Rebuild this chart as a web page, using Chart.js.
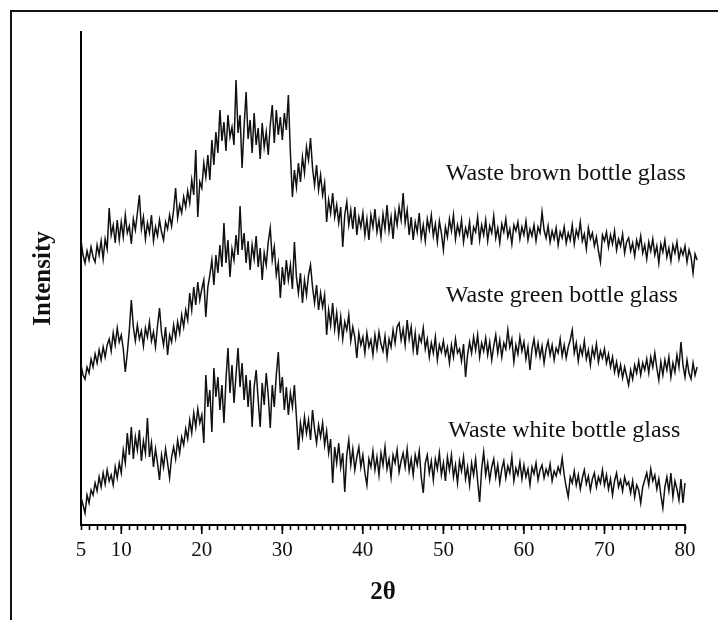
<!DOCTYPE html>
<html>
<head>
<meta charset="utf-8">
<script src="https://cdn.jsdelivr.net/npm/chart.js@4"></script>
<style>
  body { margin: 0; background: #fff; }
  #wrap { width: 718px; height: 620px; }
</style>
</head>
<body>
<div id="wrap"><canvas id="xrdChart"></canvas></div>
<script>
// scan grid: 2theta from 5 deg, 0.25 deg per step
const thetaStart = 5;
const thetaStep = 0.25;

const xTickLabels = [5, 10, 20, 30, 40, 50, 60, 70, 80];
const majorTicks = [10, 20, 30, 40, 50, 60, 70, 80];

// intensities (arbitrary units)
const brownGlass = [
  285, 270, 262, 274, 265, 278, 268, 263, 280, 270, 284, 266, 286, 276, 317, 290, 300, 282, 305, 285,
  303, 288, 310, 292, 299, 281, 306, 295, 312, 330, 296, 308, 286, 302, 292, 310, 284, 298, 289, 305,
  293, 285, 303, 296, 310, 299, 315, 337, 307, 320, 312, 328, 318, 334, 322, 345, 330, 375, 308, 343,
  337, 362, 348, 370, 345, 385, 360, 393, 372, 415, 384, 403, 374, 410, 388, 398, 380, 445, 392, 410,
  357, 398, 433, 386, 405, 372, 412, 380, 397, 366, 402, 378, 393, 370, 400, 420, 382, 415, 390, 408,
  385, 412, 395, 430, 372, 328, 355, 338, 362, 343, 368, 352, 378, 365, 387, 357, 340, 360, 335, 350,
  330, 342, 303, 325, 312, 332, 308, 320, 302, 318, 278, 310, 323, 300, 315, 296, 318, 290, 308, 298,
  312, 290, 306, 285, 310, 298, 316, 293, 305, 288, 311, 296, 320, 294, 308, 286, 313, 300, 318, 305,
  332, 302, 315, 290, 308, 285, 303, 293, 312, 287, 300, 284, 306, 295, 310, 289, 301, 283, 304, 292,
  275, 298, 288, 306, 294, 310, 286, 300, 291, 305, 283, 297, 289, 303, 280, 298, 293, 308, 285, 300,
  290, 305, 284, 299, 292, 309, 287, 297, 282, 301, 293, 306, 288, 296, 281, 300, 294, 303, 286, 298,
  290, 304, 285, 296, 289, 300, 284, 298, 292, 313, 295, 287, 299, 283, 294, 286, 297, 280, 293, 287,
  298, 282, 292, 285, 300, 281, 295, 288, 303, 284, 291, 276, 297, 286, 292, 279, 288, 274, 263, 290,
  284, 293, 278, 290, 281, 294, 275, 286, 279, 291, 272, 283, 287, 274, 282, 269, 285, 277, 289, 272,
  280, 266, 283, 274, 286, 270, 279, 262, 281, 273, 285, 268, 277, 264, 280, 272, 283, 266, 276, 270,
  279, 263, 275, 268, 252, 271, 265
];

const greenGlass = [
  160, 150, 146, 158, 152, 166, 158, 171, 162, 175, 165, 178, 168, 180, 186, 174, 192, 180, 197, 183,
  190, 176, 153, 172, 195, 225, 198, 184, 200, 186, 194, 179, 197, 188, 203, 184, 193, 178, 199, 217,
  192, 180, 198, 170, 190, 183, 200, 187, 203, 192, 210, 198, 215, 205, 232, 215, 238, 220, 243, 225,
  236, 245, 208, 238, 250, 265, 240, 270, 252, 280, 258, 302, 262, 285, 248, 276, 265, 290, 270, 319,
  275, 292, 262, 284, 255, 280, 266, 289, 258, 277, 245, 272, 260, 283, 297, 265, 278, 250, 262, 227,
  258, 240, 265, 245, 260, 236, 283, 248, 232, 252, 222, 245, 230, 250, 260, 238, 222, 240, 215, 232,
  218, 230, 190, 215, 200, 222, 196, 212, 190, 208, 186, 203, 195, 210, 184, 198, 188, 167, 192, 180,
  188, 172, 192, 178, 185, 170, 190, 176, 193, 181, 174, 189, 168, 186, 178, 195, 182, 198, 202, 185,
  196, 180, 205, 186, 198, 175, 192, 170, 189, 183, 197, 176, 186, 168, 182, 172, 188, 165, 180, 173,
  184, 170, 178, 162, 180, 168, 186, 172, 176, 164, 181, 148, 170, 183, 172, 188, 175, 190, 168, 182,
  174, 187, 170, 183, 165, 179, 190, 172, 185, 168, 182, 176, 195, 178, 186, 163, 180, 171, 188, 174,
  183, 166, 178, 155, 176, 186, 170, 182, 168, 179, 162, 176, 184, 170, 180, 165, 177, 172, 186, 169,
  180, 167, 178, 185, 195, 172, 182, 164, 178, 170, 184, 166, 175, 160, 177, 168, 181, 163, 174, 167,
  176, 162, 171, 158, 168, 153, 163, 150, 160, 147, 158, 149, 140, 155, 146, 160, 152, 164, 150, 162,
  155, 166, 152, 168, 158, 172, 157, 145, 163, 150, 165, 155, 168, 148, 162, 153, 170, 158, 183, 160,
  148, 165, 152, 146, 162, 150, 158
];

const whiteGlass = [
  28, 20, 12, 30, 22, 35, 30, 42, 34, 48, 38, 52, 41, 55, 44, 50, 40, 58, 47, 62,
  52, 75, 62, 92, 70, 98, 66, 88, 75, 95, 64, 84, 72, 107, 68, 82, 58, 76, 62, 45,
  70, 58, 76, 62, 47, 68, 78, 66, 85, 72, 88, 80, 96, 86, 105, 92, 112, 98, 116, 102,
  110, 82, 150, 118, 135, 93, 157, 128, 148, 115, 140, 102, 145, 177, 132, 160, 122, 150, 177, 138,
  162, 125, 150, 118, 145, 98, 138, 155, 125, 98, 142, 120, 152, 130, 97, 140, 118, 150, 173, 132,
  148, 115, 138, 110, 132, 118, 140, 108, 75, 102, 88, 108, 92, 105, 85, 115, 96, 82, 100, 88,
  102, 80, 94, 72, 86, 42, 78, 62, 82, 58, 72, 33, 70, 85, 60, 76, 55, 68, 78, 58,
  70, 52, 40, 66, 58, 74, 55, 68, 50, 72, 60, 78, 56, 66, 48, 70, 62, 75, 53, 64,
  72, 58, 76, 54, 66, 50, 70, 60, 74, 48, 32, 62, 70, 52, 64, 45, 66, 56, 72, 50,
  62, 44, 68, 55, 70, 48, 60, 42, 64, 54, 68, 46, 58, 40, 62, 50, 66, 44, 23, 56,
  73, 50, 62, 45, 58, 66, 48, 60, 42, 56, 64, 47, 59, 52, 68, 44, 57, 50, 63, 46,
  60, 48, 56, 40, 58, 51, 62, 45, 55, 60, 47, 56, 50, 61, 44, 54, 49, 58, 52, 67,
  50, 38, 28, 48, 42, 54, 40, 50, 36, 47, 55, 41, 49, 35, 46, 52, 38, 48, 42, 55,
  40, 50, 36, 46, 30, 44, 52, 38, 45, 34, 48, 40, 43, 32, 44, 28, 40, 35, 22, 38,
  45, 52, 40, 56, 44, 50, 36, 46, 30, 17, 38, 48, 34, 52, 28, 44, 36, 25, 46, 22,
  42
];

const curveNames = ['Waste brown bottle glass', 'Waste green bottle glass', 'Waste white bottle glass'];
const labelAt = [[50.3, 351], [50.3, 229], [50.6, 94]];

const serif = "'Liberation Serif', 'Times New Roman', serif";

function toPoints(values) {
  return values.map((v, i) => ({ x: thetaStart + i * thetaStep, y: v }));
}

function lineSet(name, values) {
  return {
    label: name,
    data: toPoints(values),
    borderColor: '#111',
    borderWidth: 1.5,
    pointRadius: 0,
    tension: 0,
    clip: false
  };
}

// outer frame, longer major ticks, curve captions
const extras = {
  id: 'extras',
  afterDraw(chart) {
    const { ctx, chartArea: { bottom }, scales: { x, y } } = chart;
    ctx.save();
    ctx.strokeStyle = '#111';
    ctx.lineWidth = 2;
    ctx.strokeRect(11, 11, 900, 900);

    ctx.lineWidth = 1.6;
    ctx.strokeStyle = '#000';
    majorTicks.forEach(v => {
      const px = x.getPixelForValue(v);
      ctx.beginPath();
      ctx.moveTo(px, bottom);
      ctx.lineTo(px, bottom + 9);
      ctx.stroke();
    });

    ctx.fillStyle = '#111';
    ctx.font = '24px ' + serif;
    ctx.textAlign = 'left';
    ctx.textBaseline = 'middle';
    curveNames.forEach((name, i) => {
      ctx.fillText(name, x.getPixelForValue(labelAt[i][0]), y.getPixelForValue(labelAt[i][1]));
    });
    ctx.restore();
  }
};

new Chart('xrdChart', {
  type: 'line',
  data: {
    datasets: [
      lineSet(curveNames[0], brownGlass),
      lineSet(curveNames[1], greenGlass),
      lineSet(curveNames[2], whiteGlass)
    ]
  },
  options: {
    animation: false,
    responsive: true,
    maintainAspectRatio: false,
    layout: { padding: { top: 32, right: 33, left: 0, bottom: 0 } },
    plugins: {
      legend: { display: false },
      tooltip: { enabled: false }
    },
    scales: {
      x: {
        type: 'linear',
        bounds: 'data',
        // range set here (not via min/max) so the scans running past 80 still get drawn
        afterDataLimits: (scale) => { scale.min = 5; scale.max = 80; },
        afterBuildTicks: (scale) => {
          const t = [];
          for (let v = 5; v <= 80; v++) t.push({ value: v });
          scale.ticks = t;
          scale.min = 5;
          scale.max = 80;
        },
        afterFit: (scale) => { scale.height = 95; },
        ticks: {
          autoSkip: false,
          maxRotation: 0,
          minRotation: 0,
          padding: 8,
          color: '#111',
          font: { family: serif, size: 21 },
          callback: (v) => xTickLabels.includes(v) ? String(v) : ''
        },
        grid: {
          display: true,
          drawOnChartArea: false,
          drawTicks: true,
          tickLength: 5,
          tickWidth: 1.6,
          tickColor: '#000'
        },
        border: { display: true, color: '#000', width: 2 },
        title: {
          display: true,
          text: '2θ',
          color: '#111',
          font: { family: serif, size: 25, weight: 'bold' },
          padding: { bottom: 12 }
        }
      },
      y: {
        min: 0,
        max: 493,
        afterFit: (scale) => { scale.width = 81; },
        ticks: { display: false },
        grid: { display: false },
        border: { display: true, color: '#000', width: 2 },
        title: {
          display: true,
          text: 'Intensity',
          color: '#111',
          font: { family: serif, size: 25, weight: 'bold' },
          padding: { top: 29 }
        }
      }
    }
  },
  plugins: [extras]
});
</script>
</body>
</html>
